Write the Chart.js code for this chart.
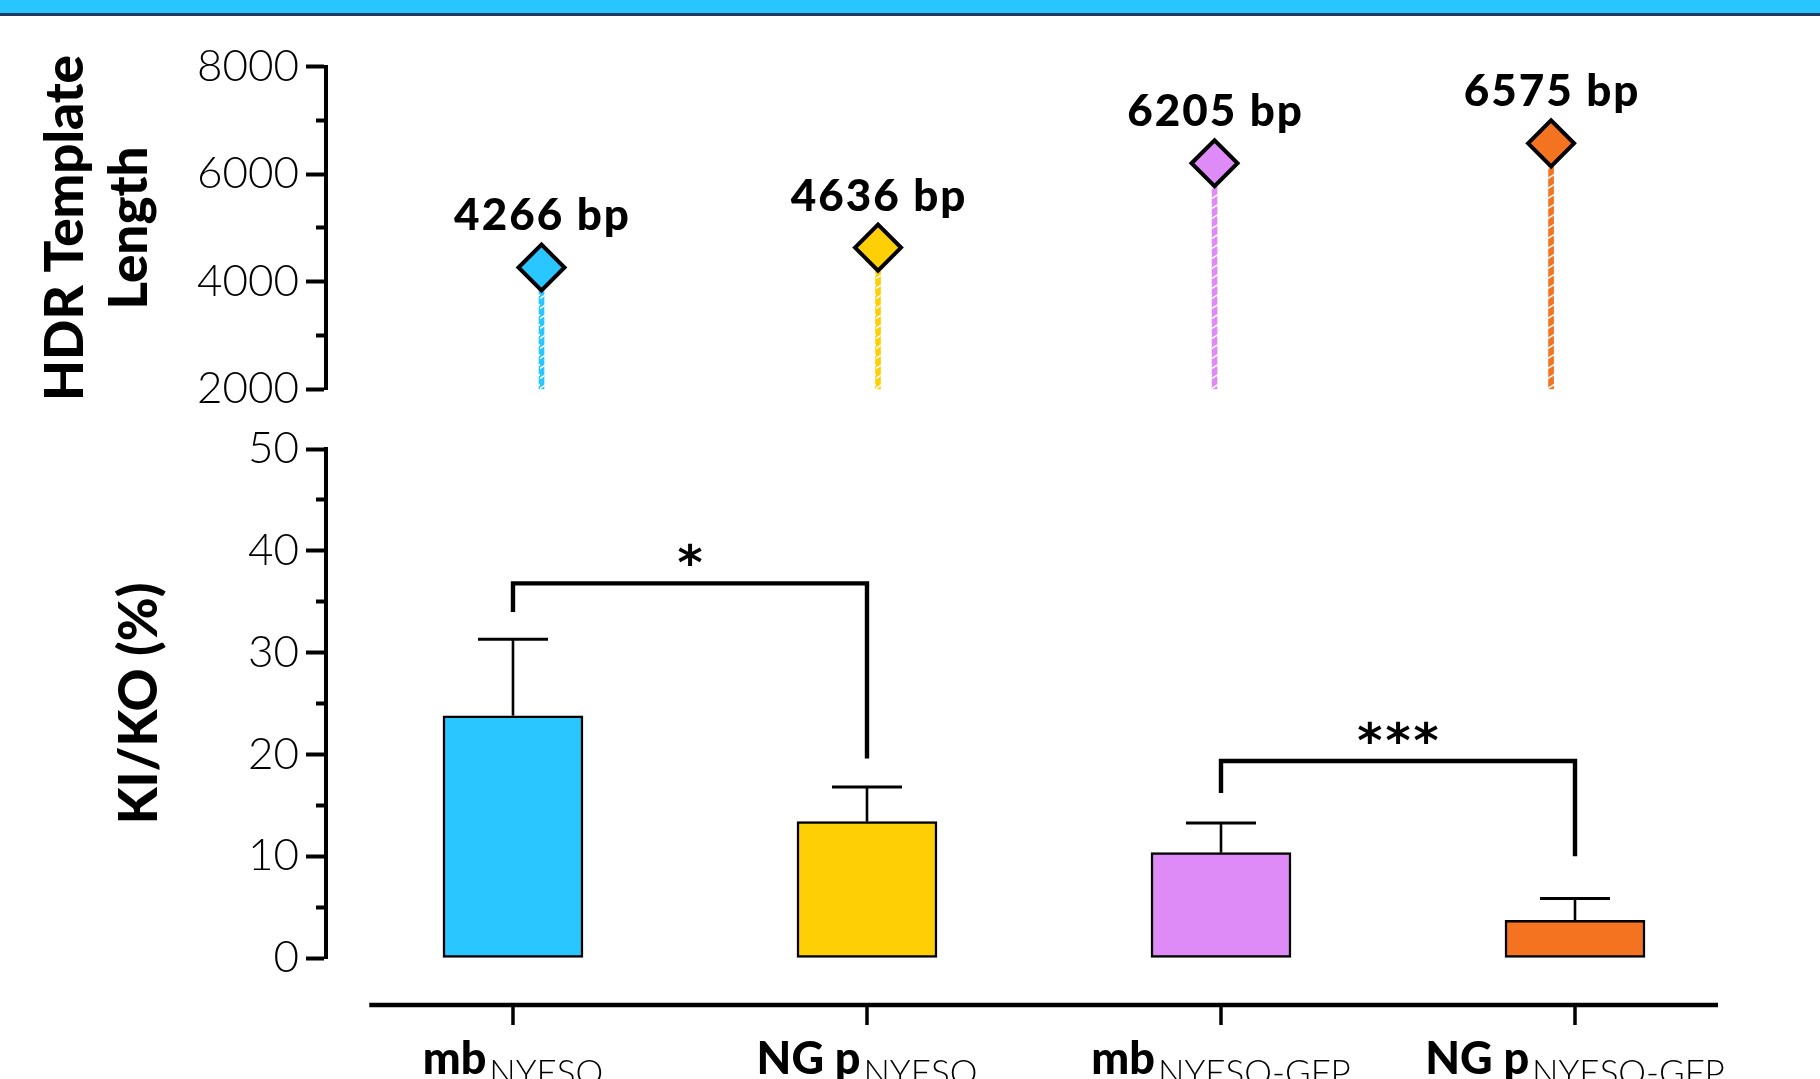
<!DOCTYPE html>
<html>
<head>
<meta charset="utf-8">
<script src="https://cdn.jsdelivr.net/npm/chart.js@4.4.1/dist/chart.umd.min.js"></script>
<style>
  html, body { margin: 0; padding: 0; background: #fff; }
  #page { position: relative; width: 1820px; height: 1079px; overflow: hidden; }
  #banner { position: absolute; left: 0; top: 0; width: 1820px; height: 13px; background: #29c5ff; border-bottom: 3px solid #1e3a5f; }
  canvas { position: absolute; left: 0; top: 0; }
</style>
</head>
<body>
<div id="page">
  <div id="banner"></div>
  <canvas id="length_chart" width="1820" height="1079"></canvas>
  <canvas id="kiko_chart" width="1820" height="1079"></canvas>
</div>
<script>
// groups (x axis of the bottom panel)
const groupNames = ['mb', 'NG p', 'mb', 'NG p'];
const groupSubs = ['NYESO', 'NYESO', 'NYESO-GFP', 'NYESO-GFP'];
const groupColors = ['#29c6ff', '#ffcf06', '#de8af7', '#f47320'];

// top panel: HDR template length (bp)
const templateLength = [4266, 4636, 6205, 6575];
const lengthTickLabels = [2000, 4000, 6000, 8000];

// bottom panel: KI/KO (%) mean + error
const kikoMean = [23.8, 13.4, 10.35, 3.7];
const kikoErr = [7.5, 3.4, 2.9, 2.15];
const kikoTickLabels = [0, 10, 20, 30, 40, 50];

// significance brackets
const bracketFrom = [0, 2];
const bracketTo = [1, 3];
const bracketLevel = [36.8, 19.35];
const bracketLeftEnd = [34.0, 16.2];
const bracketRightEnd = [19.6, 10.0];
const bracketText = ['*', '***'];

const AXIS_W = 326;
const LABEL_FONT = 'Lato';

function stripes(ctx, color) {
  const c = document.createElement('canvas');
  c.width = 6; c.height = 10;
  const g = c.getContext('2d');
  g.fillStyle = color;
  g.fillRect(0, 0, 6, 10);
  g.strokeStyle = '#fff';
  g.lineWidth = 1.4;
  g.beginPath(); g.moveTo(-1, 9); g.lineTo(7, 4); g.stroke();
  return ctx.createPattern(c, 'repeat');
}

function yAxis(min, max, step, labels, isMajor, title, titlePad, lineHeight) {
  return {
    min: min, max: max,
    afterFit: (s) => { s.width = AXIS_W; },
    border: { display: true, color: '#000', width: 4 },
    grid: {
      drawOnChartArea: false,
      tickLength: 20,
      tickWidth: 4,
      tickColor: '#000',
      tickBorderDash: (ctx) => isMajor(ctx.tick.value) ? [] : [8, 10],
      tickBorderDashOffset: (ctx) => isMajor(ctx.tick.value) ? 0 : 8
    },
    ticks: {
      stepSize: step, autoSkip: false, padding: 7, color: '#000',
      font: { family: LABEL_FONT, size: 44, weight: '300' },
      callback: (v) => labels.includes(v) ? String(v) : ''
    },
    title: {
      display: true, text: title, color: '#000',
      font: { family: LABEL_FONT, size: 53, weight: '900', lineHeight: lineHeight },
      padding: { top: titlePad, bottom: 0 }
    }
  };
}

// ---- top chart ----
const lenCtx = document.getElementById('length_chart').getContext('2d');

const bpLabels = {
  id: 'bpLabels',
  afterDatasetsDraw(chart) {
    const { ctx, scales } = chart;
    ctx.save();
    ctx.fillStyle = '#000';
    ctx.font = '900 44px ' + LABEL_FONT;
    ctx.letterSpacing = '2px';
    ctx.textAlign = 'center';
    ctx.textBaseline = 'alphabetic';
    templateLength.forEach((v, i) => {
      const x = scales.x.getPixelForValue(i);
      const y = scales.y.getPixelForValue(v);
      ctx.fillText(v + ' bp', x + 1, y - 37);
    });
    ctx.restore();
  }
};

new Chart(lenCtx, {
  type: 'bar',
  data: {
    datasets: [
      {
        type: 'line',
        data: templateLength.map((v, i) => ({ x: i, y: v })),
        showLine: false,
        pointStyle: 'rectRot',
        pointRadius: 23,
        pointHoverRadius: 23,
        pointBorderWidth: 4,
        pointBackgroundColor: groupColors,
        pointBorderColor: '#000',
        order: 0
      },
      {
        type: 'bar',
        data: templateLength.map((v, i) => ({ x: i, y: [2000, v] })),
        backgroundColor: groupColors.map(c => stripes(lenCtx, c)),
        barThickness: 5,
        borderWidth: 0,
        order: 1
      }
    ]
  },
  options: {
    responsive: false, animation: false, devicePixelRatio: 1,
    layout: { padding: { top: 66.7, bottom: 1079 - 389.3, left: 0, right: 100 } },
    plugins: { legend: { display: false }, tooltip: { enabled: false } },
    scales: {
      x: { type: 'linear', display: false, offset: false, min: -0.6404, max: 3.502 },
      y: yAxis(2000, 8000, 1000, lengthTickLabels, v => v % 2000 === 0,
               ['HDR Template', 'Length'], 34, 64 / 53)
    }
  },
  plugins: [bpLabels]
});

// ---- bottom chart ----
const kikoCtx = document.getElementById('kiko_chart').getContext('2d');

const kikoExtras = {
  id: 'kikoExtras',
  afterDatasetsDraw(chart) {
    const { ctx, scales } = chart;
    const xs = scales.x, ys = scales.y;
    ctx.save();
    ctx.strokeStyle = '#000';
    ctx.lineCap = 'butt';

    // error bars (upper only)
    kikoMean.forEach((m, i) => {
      const x = xs.getPixelForValue(i);
      const y0 = ys.getPixelForValue(m);
      const y1 = ys.getPixelForValue(m + kikoErr[i]);
      ctx.lineWidth = 2.6;
      ctx.beginPath(); ctx.moveTo(x, y0); ctx.lineTo(x, y1); ctx.stroke();
      ctx.lineWidth = 3;
      ctx.beginPath(); ctx.moveTo(x - 35, y1); ctx.lineTo(x + 35, y1); ctx.stroke();
    });

    // brackets
    ctx.lineJoin = 'miter';
    bracketFrom.forEach((f, k) => {
      const xa = xs.getPixelForValue(f);
      const xb = xs.getPixelForValue(bracketTo[k]);
      const yl = ys.getPixelForValue(bracketLevel[k]);
      ctx.lineWidth = 4.4;
      ctx.beginPath();
      ctx.moveTo(xa, ys.getPixelForValue(bracketLeftEnd[k]));
      ctx.lineTo(xa, yl);
      ctx.lineTo(xb, yl);
      ctx.lineTo(xb, ys.getPixelForValue(bracketRightEnd[k]));
      ctx.stroke();

      ctx.fillStyle = '#000';
      ctx.font = 'bold 48px "DejaVu Sans"';
      ctx.letterSpacing = '3px';
      ctx.textAlign = 'left';
      ctx.textBaseline = 'alphabetic';
      const t = bracketText[k];
      const m = ctx.measureText(t);
      const w = m.width - 3;
      const gy = yl - 29 + (m.actualBoundingBoxAscent - m.actualBoundingBoxDescent) / 2;
      ctx.fillText(t, (xa + xb) / 2 - w / 2, gy);
    });
    ctx.letterSpacing = '0px';

    // detached x axis
    const axisY = ys.getPixelForValue(0) + 47;
    ctx.lineWidth = 4.5;
    ctx.beginPath();
    ctx.moveTo(xs.getPixelForValue(-0.406), axisY);
    ctx.lineTo(xs.getPixelForValue(3.404), axisY);
    ctx.stroke();
    ctx.lineWidth = 3.5;
    groupNames.forEach((name, i) => {
      const x = xs.getPixelForValue(i);
      ctx.beginPath(); ctx.moveTo(x, axisY); ctx.lineTo(x, axisY + 20); ctx.stroke();

      const mainFont = '900 45px ' + LABEL_FONT;
      const subFont = '300 35px ' + LABEL_FONT;
      ctx.font = mainFont;
      const wm = ctx.measureText(name).width;
      ctx.font = subFont;
      const ws = ctx.measureText(groupSubs[i]).width;
      const gap = 3;
      const x0 = x - (wm + gap + ws) / 2;
      ctx.fillStyle = '#000';
      ctx.textAlign = 'left';
      ctx.font = mainFont;
      ctx.fillText(name, x0, axisY + 69);
      ctx.font = subFont;
      ctx.fillText(groupSubs[i], x0 + wm + gap, axisY + 80);
    });
    ctx.restore();
  }
};

new Chart(kikoCtx, {
  type: 'bar',
  data: {
    datasets: [{
      data: kikoMean.map((v, i) => ({ x: i, y: v })),
      backgroundColor: groupColors,
      borderColor: '#000',
      borderWidth: 2.5,
      borderSkipped: false,
      barThickness: 140
    }]
  },
  options: {
    responsive: false, animation: false, devicePixelRatio: 1,
    layout: { padding: { top: 449, bottom: 1079 - 958, left: 0, right: 100 } },
    plugins: { legend: { display: false }, tooltip: { enabled: false } },
    scales: {
      x: { type: 'linear', display: false, offset: false, min: -0.5282, max: 3.4096 },
      y: yAxis(0, 50, 5, kikoTickLabels, v => v % 10 === 0,
               'KI/KO (%)', 107.8, 1.2)
    }
  },
  plugins: [kikoExtras]
});
</script>
</body>
</html>
